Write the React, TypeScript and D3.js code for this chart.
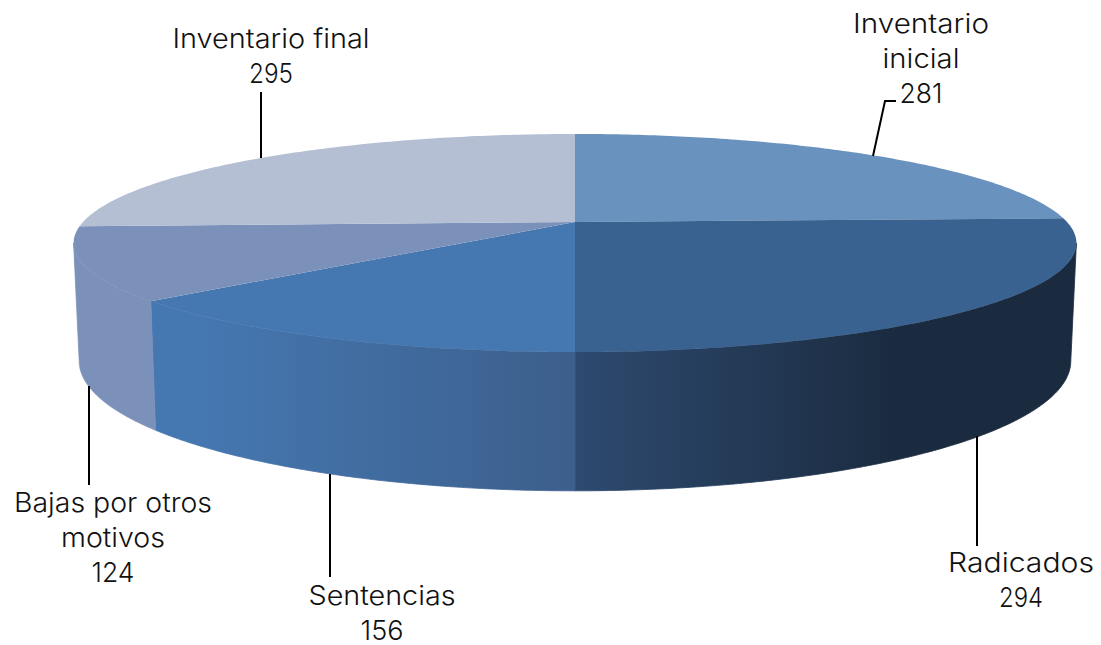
import React from "react";
import * as d3 from "d3";

const categories = ["Inventario inicial", "Radicados", "Sentencias", "Bajas por otros motivos", "Inventario final"];
const values = [281, 294, 156, 124, 295];
const topColors = ["#6a92be", "#3a6290", "#4577b0", "#7b91ba", "#b4bfd4"];
const sideStart = ["#1b2c40", "#2e4a70", "#3c5f8c", "#7b91ba", "#b4bfd4"];
const sideEnd = ["#1b2c40", "#1a2b3f", "#4577b0", "#7b91ba", "#b4bfd4"];
const labelLines = [
  ["Inventario", "inicial", "281"],
  ["Radicados", "294"],
  ["Sentencias", "156"],
  ["Bajas por otros", "motivos", "124"],
  ["Inventario final", "295"],
];
const labelWidths = [
  [136, 77, 43],
  [146, 44],
  [147, 43],
  [198, 104, 43],
  [197, 44],
];
const labelCenters = [921, 1021, 382, 113, 271];
const labelBaselines = [33, 572, 605, 512, 48];
const leaders = [
  [[873, 156], [885, 101], [896, 101]],
  [[977, 436], [977, 546]],
  [[330, 474], [330, 577]],
  [[89, 386], [89, 485]],
  [[261, 158], [261, 92]],
];

const K = 0.1927;
const CX = 575;
const project = (a: number, plane: { cy: number; r: number; s: number }) => {
  const X = Math.sin(a), Y = Math.cos(a), d = 1 + K * Y;
  return [CX + (plane.r * X) / d, plane.cy - (plane.s * Y) / d] as [number, number];
};
const TOP = { cy: 222, r: 492, s: 105 };
const BOTTOM = { cy: 336, r: 486.5, s: 125 };
const VIS0 = Math.acos(-K);
const VIS1 = 2 * Math.PI - VIS0;

const arcPts = (a0: number, a1: number, plane: typeof TOP) =>
  d3.range(0, 121).map((i) => project(a0 + ((a1 - a0) * i) / 120, plane));

export default function App() {
  const arcs = d3.pie<number>().sort(null)(values);
  const line = d3.line();
  return (
    <svg
      width={1101}
      height={645}
      style={{ position: "absolute", left: 0, top: 0, background: "#fff" }}
      fontFamily="Inter"
      fontWeight={300}
    >
      <defs>
        {arcs.map((d, i) => {
          const a0 = Math.max(d.startAngle, VIS0);
          const a1 = Math.min(d.endAngle, VIS1);
          if (a1 <= a0) return null;
          const xa = project(a0, BOTTOM)[0];
          const xb = project(a1, BOTTOM)[0];
          // Radicados darkens from the middle out to about x = 900; Sentencias is flat near its left end.
          const x1 = i === 1 ? 900 : i === 2 ? xb + 50 : xb;
          return (
            <linearGradient key={i} id={`side${i}`} gradientUnits="userSpaceOnUse" x1={i === 1 ? xb : xa} x2={x1} y1={0} y2={0}>
              <stop offset="0" stopColor={sideStart[i]} />
              <stop offset="1" stopColor={sideEnd[i]} />
            </linearGradient>
          );
        })}
      </defs>
      {arcs.map((d, i) => {
        const a0 = Math.max(d.startAngle, VIS0);
        const a1 = Math.min(d.endAngle, VIS1);
        if (a1 <= a0) return null;
        const pts = [...arcPts(a0, a1, TOP), ...arcPts(a1, a0, BOTTOM)];
        return <path key={i} d={line(pts) + "Z"} fill={`url(#side${i})`} stroke={`url(#side${i})`} strokeWidth={0.8} />;
      })}
      {arcs.map((d, i) => {
        const pts = [project(0, { ...TOP, r: 0, s: 0 }), ...arcPts(d.startAngle, d.endAngle, TOP)];
        return <path key={i} d={line(pts) + "Z"} fill={topColors[i]} />;
      })}
      {leaders.map((l, i) => (
        <path key={i} d={line(l as [number, number][]) as string} fill="none" stroke="#000" strokeWidth={2} />
      ))}
      {labelLines.map((lines, i) =>
        lines.map((t, j) => (
          <text
            key={t + j}
            x={labelCenters[i]}
            y={labelBaselines[i] + j * 34.8}
            textAnchor="middle"
            fontSize={27}
            fill="#111"
            textLength={labelWidths[i][j]}
            lengthAdjust="spacingAndGlyphs"
            aria-label={j === 0 ? categories[i] : undefined}
          >
            {t}
          </text>
        ))
      )}
    </svg>
  );
}
